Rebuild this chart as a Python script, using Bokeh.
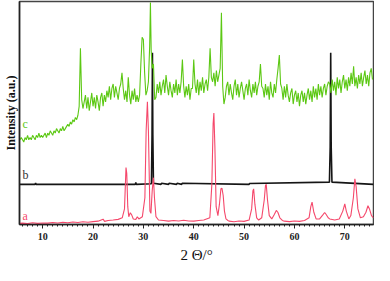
import numpy as np
from bokeh.plotting import figure
from bokeh.models import Range1d, SingleIntervalTicker, FixedTicker
from bokeh.core.properties import value
from bokeh.embed import file_html
from bokeh.resources import INLINE

# ---- data (y in arbitrary units 0..100) ----
x_tick_step = 10

red_x = [5.5, 6, 7, 8, 9, 10, 11, 12, 13, 14, 15, 16, 17, 18, 19, 20, 21, 22, 22.3, 23, 24, 25,
         25.8, 26.25, 26.55, 26.7, 26.9, 27.1, 27.4, 27.7, 28.0, 28.5, 28.8, 29.1, 29.8,
         30.3, 30.55, 30.8, 31.0, 31.3, 31.5, 31.75, 32.0, 32.2, 32.5, 33, 34, 35, 36, 37,
         38, 39, 40, 41, 42, 43.2, 43.6, 43.85, 44.0, 44.2, 44.45, 44.8, 45.1, 45.4, 45.6,
         45.85, 46.1, 46.4, 46.8, 47, 48, 49, 50, 51, 51.5, 51.75, 51.9, 52.15, 52.5, 52.9,
         53.5, 54.0, 54.25, 54.4, 54.65, 55.0, 55.5, 56.0, 56.4, 56.7, 57.1, 57.6, 58, 59, 60,
         61, 62, 62.9, 63.25, 63.5, 63.85, 64.3, 65, 65.6, 66.0, 66.3, 66.7, 67, 68, 68.9,
         69.6, 70.0, 70.3, 70.8, 71.2, 71.7, 72.0, 72.25, 72.6, 73.1, 73.7, 74.2, 74.6, 74.9,
         75.3, 75.7]
red_y = [0.5, 0.6, 0.4, 0.8, 0.5, 0.7, 0.6, 0.9, 0.7, 1.0, 0.8, 1.1, 0.9, 1.2, 1.0, 1.3, 1.5, 2.4, 1.4, 1.8, 2.0, 2.3,
         3.0, 7.0, 25.5, 23.0, 8.0, 3.5, 5.3, 4.2, 2.5, 2.3, 3.5, 2.5, 3.5,
         12.0, 42.0, 55.0, 42.0, 6.0, 5.0, 15.0, 21.0, 12.0, 3.5, 2.0, 1.8, 1.5, 1.8, 1.6,
         1.9, 1.6, 1.5, 1.8, 2.0, 3.0, 18.0, 45.0, 50.0, 35.0, 8.0, 4.0, 9.0, 16.0, 16.3,
         13.0, 6.0, 2.5, 1.8, 1.5, 1.2, 1.6, 1.4, 2.0, 7.0, 15.0, 16.0, 9.0, 3.0, 2.0,
         3.0, 11.0, 17.5, 18.0, 11.0, 4.0, 2.5, 4.5, 6.3, 5.5, 3.0, 1.8, 1.5, 1.3, 1.6,
         1.4, 1.8, 3.0, 8.0, 10.0, 5.5, 2.5, 2.5, 4.2, 5.4, 4.5, 3.0, 2.5, 2.0, 2.5,
         6.0, 9.2, 6.0, 2.5, 4.0, 12.0, 20.5, 17.0, 7.0, 3.0, 3.5, 5.5, 8.4, 7.0,
         4.0, 3.0]

black_x = [5.4, 8.5, 8.6, 8.7, 28.4, 28.5, 28.6, 31.6, 31.72, 31.8, 31.88, 32.0, 33.5, 33.6, 35.0,
           35.1, 36.6, 36.7, 37.6, 37.7, 51.0, 51.1, 66.95, 67.1, 67.2, 67.3, 67.45, 75.7]
black_y = [18.0, 18.0, 18.6, 18.0, 18.0, 18.8, 18.0, 18.3, 40.0, 77.0, 40.0, 18.5, 18.0, 18.5, 18.0,
           18.5, 18.0, 18.5, 18.0, 18.5, 18.0, 18.4, 19.0, 35.0, 77.0, 35.0, 19.0, 18.0]

green_scan_start = [5.5, 10.25, 14.75, 18.0, 23.0, 26.0, 32.5, 38.25, 40.25, 43.75, 46.25, 53.75, 57.5, 67.0]
green_scan_values = [
    [38, 39, 38, 37, 39, 38, 40, 38, 39, 38, 40, 39, 38, 40, 39, 41, 39, 40, 39],
    [40, 41, 39, 41, 40, 42, 41, 40, 42, 41, 43, 42, 41, 43, 42, 44, 42, 43],
    [44, 45, 44, 46, 45, 47, 46, 48, 47, 49],
    [52, 55, 58, 52, 57, 51, 55, 59, 53, 57, 52, 58, 55, 51, 57, 59, 53, 58, 55, 60],
    [57, 62, 56, 61, 63, 57, 62, 59, 56, 61, 63],
    [61, 56, 60, 55, 66, 58, 54, 60, 56, 61, 55, 58],
    [57, 63, 59, 64, 58, 62, 65, 59, 67, 62, 58, 64, 60, 57, 63, 59, 65, 58, 63, 59, 64],
    [57, 62, 58, 63, 56, 61, 61],
    [63, 59, 65, 58, 64, 60, 66, 59, 63, 65, 60, 66],
    [64, 68, 62, 69, 64, 67, 70],
    [57, 62, 64, 58, 63, 59, 56, 62, 65, 58, 63, 57, 61, 64, 60, 56, 61, 63, 58, 65, 60, 57, 63, 59, 64, 58, 62],
    [61, 57, 63, 58, 62, 56, 64, 59, 57, 63, 59, 65],
    [61, 56, 62, 57, 63, 58, 55, 59, 61, 54, 58, 60, 55, 59, 53, 58, 60, 55, 59, 54, 58, 61, 56, 60, 55,
     62, 57, 61, 56, 63, 58, 62, 57, 61, 63, 58, 62, 64],
    [63, 59, 65, 60, 64, 58, 66, 61, 65, 59, 64, 67, 61, 65, 60, 66, 62, 68, 63, 71, 62, 66, 61, 67, 63,
     68, 62, 66, 69, 63, 67, 62, 68, 70, 65],
]
green_scan_step = 0.25
green_peak_x = [17.25, 17.5, 17.75, 25.75, 29.0, 29.25, 29.5, 29.75, 30.0, 30.25, 30.5, 30.75, 31.0,
                31.25, 31.4, 31.55, 31.75, 32.0, 32.25, 37.75, 38.0, 40.0, 43.25, 43.5, 45.5, 45.75,
                46.0, 53.0, 53.25, 53.5, 56.75, 57.0, 57.25]
green_peak_y = [53, 79, 56, 68, 55, 58, 72, 84, 83, 68, 58, 60, 64,
                80, 99.5, 78, 70, 72, 56, 74, 62, 74, 79, 66, 95, 62,
                54, 64, 72, 62, 70, 76, 63]

label_text = ["a", "b", "c"]
label_x = [6.0, 6.0, 6.0]
label_y = [3.8, 22.2, 45.2]

# ---- assemble green trace ----
gx, gy = [], []
for s, vals in zip(green_scan_start, green_scan_values):
    for i, v in enumerate(vals):
        gx.append(s + i * green_scan_step)
        gy.append(v)
gx += green_peak_x
gy += green_peak_y
order = np.argsort(gx)
gx = list(np.array(gx)[order])
gy = list(np.array(gy, dtype=float)[order])

RED = "#f5486b"
GREEN = "#5cc814"
BLACK = "#151515"

p = figure(width=374, height=265, output_backend="svg", toolbar_location=None,
           x_range=Range1d(5.4, 75.7), y_range=Range1d(0, 100),
           min_border_top=1, min_border_right=1, min_border_left=19, min_border_bottom=0)
p.background_fill_color = "white"
p.border_fill_color = "white"
p.outline_line_color = "#444444"
p.outline_line_width = 1.5
p.xgrid.visible = False
p.ygrid.visible = False

p.line(black_x, black_y, line_color=BLACK, line_width=1.6)
p.line(red_x, red_y, line_color=RED, line_width=1.1)
p.line(gx, gy, line_color=GREEN, line_width=1.1)

p.text(x=label_x, y=label_y, text=label_text, text_color=[RED, "#333333", GREEN],
       text_font=value("Liberation Serif"), text_font_size="12px",
       text_baseline="middle", text_align="left")

p.xaxis.ticker = SingleIntervalTicker(interval=x_tick_step, num_minor_ticks=10)
p.xaxis.axis_label = "2 Θ/°"
p.xaxis.axis_label_text_font = "Liberation Serif"
p.xaxis.axis_label_text_font_size = "15px"
p.xaxis.axis_label_text_font_style = "normal"
p.xaxis.axis_label_text_color = "#111111"
p.xaxis.axis_label_standoff = 4
p.xaxis.major_label_text_font = "Liberation Serif"
p.xaxis.major_label_text_font_style = "bold"
p.xaxis.major_label_text_font_size = "10px"
p.xaxis.major_label_text_color = "#222222"
p.xaxis.major_label_standoff = 4
p.xaxis.major_tick_in = 0
p.xaxis.major_tick_out = 4
p.xaxis.minor_tick_in = 0
p.xaxis.minor_tick_out = 2
p.xaxis.axis_line_width = 1.5
p.xaxis.axis_line_color = "#222222"
p.xaxis.major_tick_line_color = "#222222"
p.xaxis.minor_tick_line_color = "#222222"

p.yaxis.ticker = FixedTicker(ticks=[])
p.yaxis.axis_label = "Intensity (a.u.)"
p.yaxis.axis_label_text_font = "Liberation Serif"
p.yaxis.axis_label_text_font_size = "12px"
p.yaxis.axis_label_text_font_style = "bold"
p.yaxis.axis_label_text_color = "#111111"
p.yaxis.axis_label_standoff = 2
p.yaxis.major_label_standoff = 0
p.yaxis.major_tick_out = 0
p.yaxis.minor_tick_out = 0
p.yaxis.axis_line_width = 1.5
p.yaxis.axis_line_color = "#222222"

open("out.html", "w").write(file_html(p, INLINE))
